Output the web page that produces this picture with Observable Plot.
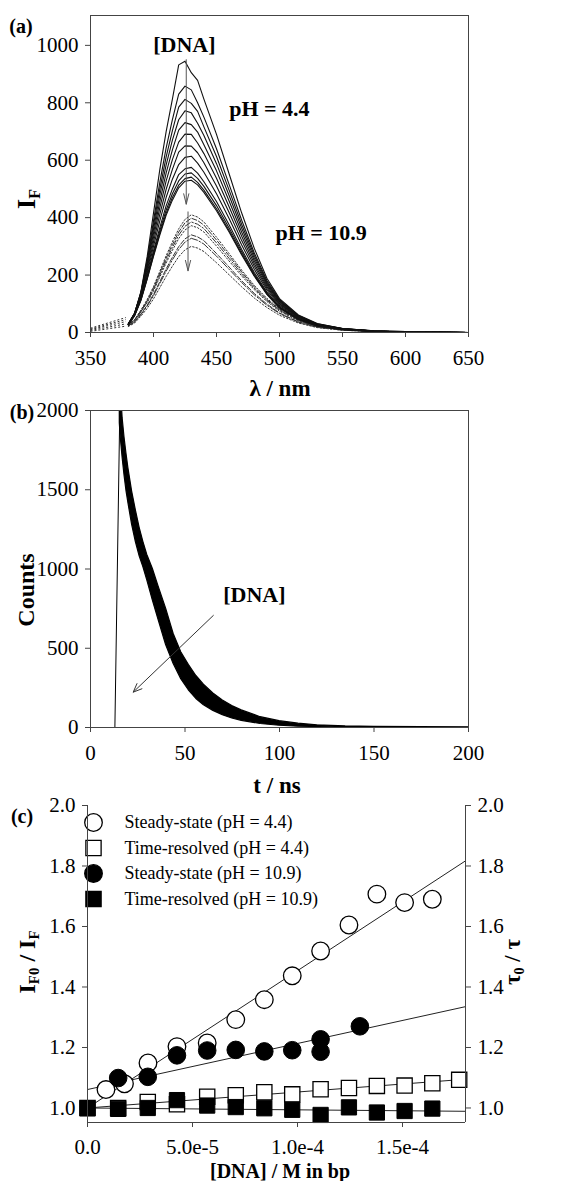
<!DOCTYPE html>
<html><head><meta charset="utf-8">
<script src="https://cdn.jsdelivr.net/npm/d3@7"></script>
<script src="https://cdn.jsdelivr.net/npm/@observablehq/plot@0.6"></script>
<style>
body{margin:0;background:#fff;}
#wrap{position:relative;width:582px;height:1181px;overflow:hidden;background:#fff;font-family:"Liberation Serif","Times New Roman",serif;color:#000;}
.panel{position:absolute;left:0;}
.lbl{position:absolute;white-space:nowrap;line-height:1;font-weight:bold;}
.lbl sub{font-size:0.62em;vertical-align:baseline;position:relative;top:0.28em;}
</style></head><body><div id="wrap"></div>
<script>
// ---------- Panel (a): emission spectra ----------
const lam = [380,385,390,395,400,405,410,415,420,425,430,435,440,450,460,470,480,490,500,515,530,550,575,600,650];
const spectraPH44 = [
 [28,66,142,265,416,567,699,813,932,945,905,878,813,690,553,416,293,189,118,61,31,14,6,3,0],
 [29,67,140,253,389,523,642,741,830,858,845,800,750,640,516,391,277,181,114,59,30,14,6,3,0],
 [30,67,138,246,374,499,611,703,785,812,798,770,716,613,496,376,268,176,111,58,29,14,5,2,0],
 [30,67,135,239,360,478,583,670,741,772,765,729,686,588,477,363,259,171,108,57,29,13,5,2,0],
 [29,66,133,232,346,456,555,636,705,731,724,698,654,563,458,349,250,166,105,55,28,13,5,2,0],
 [29,65,129,224,331,434,527,602,663,691,690,660,623,537,438,335,240,160,101,54,27,13,5,2,0],
 [29,64,126,215,316,411,498,568,628,650,649,626,591,510,418,320,231,154,98,52,26,12,5,2,0],
 [28,63,122,207,300,389,470,534,585,610,614,590,558,483,397,305,220,148,94,50,25,12,5,2,0],
 [27,61,117,197,284,365,441,500,550,570,575,555,525,456,375,289,209,141,90,48,24,11,5,2,0],
 [27,60,115,192,276,354,426,483,528,552,556,537,509,442,364,281,203,137,88,47,24,11,4,2,0],
 [27,59,113,188,269,345,415,470,513,536,541,523,496,431,355,274,199,134,86,46,23,11,4,2,0],
 [27,58,111,186,265,339,408,461,504,527,530,514,488,424,350,270,196,133,85,45,23,11,4,2,0]
];
const spectraPH109 = [
 [29,45,78,115,160,213,267,316,361,394,410,402,385,332,275,217,164,119,82,45,23,10,4,2,0],
 [28,44,76,111,155,207,259,306,350,382,398,390,374,322,267,211,159,115,80,44,22,10,4,2,0],
 [27,42,73,108,150,200,250,296,339,370,385,377,362,312,258,204,154,112,77,42,21,10,4,2,0],
 [26,41,71,104,145,193,242,286,327,357,372,365,350,301,249,197,149,108,74,41,20,9,4,1,0],
 [24,37,65,95,133,177,221,262,299,326,340,333,320,275,228,180,136,99,68,37,19,9,3,1,0],
 [23,36,62,92,128,171,213,253,289,315,328,321,308,266,220,174,131,95,66,36,18,8,3,1,0],
 [21,33,57,84,117,156,195,231,264,288,300,294,282,243,201,159,120,87,60,33,17,8,3,1,0]
];
const preLam = [350, 378];
const preStart = [4, 7, 10, 12, 15];
const preEnd = [22, 30, 38, 45, 52];
const xTicksA = [350,400,450,500,550,600,650];
const yTicksA = [0,200,400,600,800,1000];
const arrowsA = [{x1:426,y1:950,x2:426,y2:447},{x1:427.4,y1:420,x2:427.4,y2:215}];
const notesA = [{x:424.5,y:1000,t:"[DNA]"},{x:492,y:780,t:"pH = 4.4"},{x:533,y:345,t:"pH = 10.9"}];

// ---------- Panel (b): decay ----------
const riseT = [0, 12.9, 15.7];
const riseC = [0, 0, 2150];
const bandT  = [15.5,16,17,18,19,20,22,24,26,28,30,33,36,40,44,48,52,56,60,65,70,75,80,90,100,110,120,135,150,175,200];
const bandHi = [2150,2150,1950,1830,1730,1640,1490,1370,1260,1170,1090,1000,890,750,590,475,395,325,270,215,170,135,108,65,40,24,14,7,4,2,1];
const bandLo = [1920,1830,1700,1590,1495,1420,1280,1170,1080,1010,930,800,680,520,400,305,235,180,140,105,78,57,42,22,11,5,3,1,0,0,0];
const xTicksB = [0,50,100,150,200];
const yTicksB = [0,500,1000,1500,2000];
const arrowB = [{x1:65,y1:707,x2:22.6,y2:223}];
const noteB = [{x:86.7,y:839,t:"[DNA]"}];

// ---------- Panel (c): Stern-Volmer ----------
const ssX44 = [0.88e-5,1.76e-5,2.88e-5,4.26e-5,5.7e-5,7.06e-5,8.42e-5,9.75e-5,1.11e-4,1.245e-4,1.378e-4,1.51e-4,1.642e-4];
const ssY44 = [1.061,1.080,1.149,1.203,1.215,1.292,1.358,1.437,1.519,1.605,1.707,1.679,1.690];
const ssX109 = [1.46e-5,2.87e-5,4.26e-5,5.7e-5,7.06e-5,8.42e-5,9.75e-5,1.11e-4,1.11e-4,1.297e-4];
const ssY109 = [1.099,1.103,1.174,1.190,1.192,1.187,1.191,1.227,1.186,1.270];
const trX = [0,1.46e-5,2.87e-5,4.26e-5,5.7e-5,7.06e-5,8.42e-5,9.75e-5,1.11e-4,1.245e-4,1.378e-4,1.51e-4,1.642e-4,1.77e-4];
const trY44 = [1.0,1.0,1.02,1.012,1.037,1.042,1.052,1.045,1.062,1.066,1.073,1.074,1.082,1.093];
const trY109 = [0.999,0.997,1.0,1.026,1.008,1.003,0.999,0.994,0.977,1.002,0.985,0.99,0.998];
const fitX = [0, 1.8e-4];
const fitSS44 = [1.0, 1.817];
const fitTR44 = [1.0, 1.095];
const fitSS109 = [1.061, 1.335];
const fitTR109 = [1.0, 0.989];
const legendLabels = ["Steady-state (pH = 4.4)","Time-resolved (pH = 4.4)","Steady-state (pH = 10.9)","Time-resolved (pH = 10.9)"];
const xTicksC = [0,5e-5,1e-4,1.5e-4];
const xTickLabelsC = ["0.0","5.0e-5","1.0e-4","1.5e-4"];
const yTicksC = [1.0,1.2,1.4,1.6,1.8,2.0];
const yTickLabelsC = ["1.0","1.2","1.4","1.6","1.8","2.0"];

// ---------- build ----------
const FONT = '"Liberation Serif","Times New Roman",serif';
const AX = "#444";
const baseStyle = {fontFamily: FONT, fontSize: "21px", color: "#000", background: "white", overflow: "visible"};
const wrap = document.getElementById("wrap");
function place(svg, top){ const d=document.createElement("div"); d.className="panel"; d.style.top=top+"px"; d.appendChild(svg); wrap.appendChild(d); }
function label(html, cx, cy, size, rot){
  const d=document.createElement("div"); d.className="lbl"; d.innerHTML=html;
  d.style.fontSize=size+"px"; d.style.left=cx+"px"; d.style.top=cy+"px";
  d.style.transform="translate(-50%,-50%)"+(rot?` rotate(${rot}deg)`:"");
  wrap.appendChild(d);
}

const rows44 = spectraPH44.flatMap((arr,k)=>arr.map((v,i)=>({l:lam[i], v, k})));
const preRows = preStart.map((s,i)=>({x1:preLam[0], y1:s, x2:preLam[1], y2:preEnd[i]}));
const dashes = ["1.5,2","5,2","6,2,1.5,2","1.5,2","5,2","8,2,1.5,2","1.5,2"];
const lines109 = spectraPH109.map((arr,k)=>Plot.line(arr.map((v,i)=>({l:lam[i], v})), {x:"l", y:"v", stroke:"#333", strokeWidth:1, strokeDasharray:dashes[k]}));

const plotA = Plot.plot({
  width:582, height:395, marginTop:15, marginLeft:90, marginRight:114, marginBottom:63,
  x:{domain:[350,650]}, y:{domain:[0,1104]}, style: baseStyle,
  marks:[
    Plot.axisX({ticks:xTicksA, tickFormat:d=>String(d), tickSize:5, tickPadding:13, label:null, stroke:AX}),
    Plot.axisY({ticks:yTicksA, tickFormat:d=>String(d), tickSize:5, tickPadding:7, label:null, stroke:AX}),
    Plot.link(preRows, {x1:"x1", y1:"y1", x2:"x2", y2:"y2", stroke:"#333", strokeWidth:1, strokeDasharray:"2,2"}),
    ...lines109,
    Plot.line(rows44, {x:"l", y:"v", z:"k", stroke:"#111", strokeWidth:1.1}),
    Plot.arrow(arrowsA, {x1:"x1", y1:"y1", x2:"x2", y2:"y2", stroke:"#555", strokeWidth:1, headLength:16, headAngle:28}),
    Plot.text(notesA, {x:"x", y:"y", text:"t", fontWeight:"bold", fontSize:22, fontFamily:FONT, fill:"#000"}),
    Plot.frame({stroke:AX})
  ]
});
place(plotA, 0);

const riseRows = riseT.map((t,i)=>({t, c:riseC[i]}));
const bandRows = bandT.map((t,i)=>({t, lo:bandLo[i], hi:bandHi[i]}));
const plotB = Plot.plot({
  width:582, height:395, marginTop:15, marginLeft:90, marginRight:114, marginBottom:63,
  x:{domain:[0,200]}, y:{domain:[0,2000]}, style: baseStyle,
  marks:[
    Plot.axisX({ticks:xTicksB, tickFormat:d=>String(d), tickSize:5, tickPadding:13, label:null, stroke:AX}),
    Plot.axisY({ticks:yTicksB, tickFormat:d=>String(d), tickSize:5, tickPadding:7, label:null, stroke:AX}),
    Plot.areaY(bandRows, {x:"t", y1:"lo", y2:"hi", fill:"#000", stroke:"#000", strokeWidth:1.2, clip:true}),
    Plot.line(riseRows, {x:"t", y:"c", stroke:"#000", strokeWidth:1, clip:true}),
    Plot.arrow(arrowB, {x1:"x1", y1:"y1", x2:"x2", y2:"y2", stroke:"#333", strokeWidth:1, headLength:14, headAngle:45}),
    Plot.text(noteB, {x:"x", y:"y", text:"t", fontWeight:"bold", fontSize:22, fontFamily:FONT, fill:"#000"}),
    Plot.frame({stroke:AX})
  ]
});
place(plotB, 395);

const pts = (xs, ys) => xs.map((x,i)=>({x, y:ys[i]}));
const fitRows = ys => fitX.map((x,i)=>({x, y:ys[i]}));
const legendMarks = legendLabels.flatMap((lab,i)=>{
  const sym = (i%2===0) ? "circle" : "square";
  const filled = i>=2;
  return [
    Plot.dot([lab], {frameAnchor:"top-left", dx:6, dy:17+25.5*i, r: sym==="circle"?8.8:8.6, symbol:sym, fill: filled?"#000":"#fff", stroke:"#000", strokeWidth:1.3}),
    Plot.text([lab], {frameAnchor:"top-left", dx:37, dy:17+25.5*i, text:d=>d, textAnchor:"start", lineAnchor:"middle", fontSize:18, fontFamily:FONT, fill:"#000"})
  ];
});
const plotC = Plot.plot({
  width:582, height:391, marginTop:15, marginLeft:87, marginRight:117, marginBottom:59,
  x:{domain:[0,1.8e-4]}, y:{domain:[0.952,2.0]}, style: baseStyle,
  marks:[
    Plot.axisX({ticks:xTicksC, tickFormat:d=>xTickLabelsC[xTicksC.indexOf(d)], tickSize:5, tickPadding:12, label:null, stroke:AX}),
    Plot.axisY({ticks:yTicksC, tickFormat:d=>yTickLabelsC[yTicksC.indexOf(d)], tickSize:5, tickPadding:7, label:null, stroke:AX}),
    Plot.axisY({anchor:"right", ticks:yTicksC, tickFormat:d=>yTickLabelsC[yTicksC.indexOf(d)], tickSize:5, tickPadding:7, label:null, stroke:AX}),
    Plot.line(fitRows(fitSS44), {x:"x", y:"y", stroke:"#222", strokeWidth:1}),
    Plot.line(fitRows(fitSS109), {x:"x", y:"y", stroke:"#222", strokeWidth:1}),
    Plot.line(fitRows(fitTR44), {x:"x", y:"y", stroke:"#222", strokeWidth:1}),
    Plot.line(fitRows(fitTR109), {x:"x", y:"y", stroke:"#222", strokeWidth:1}),
    Plot.dot(pts(ssX44, ssY44), {x:"x", y:"y", r:8.8, fill:"#fff", stroke:"#000", strokeWidth:1.3}),
    Plot.dot(pts(trX, trY44), {x:"x", y:"y", r:8.6, symbol:"square", fill:"#fff", stroke:"#000", strokeWidth:1.3}),
    Plot.dot(pts(ssX109, ssY109), {x:"x", y:"y", r:8.8, fill:"#000", stroke:"#000", strokeWidth:1}),
    Plot.dot(pts(trX.slice(0, trY109.length), trY109), {x:"x", y:"y", r:8.6, symbol:"square", fill:"#000", stroke:"#000", strokeWidth:1}),
    ...legendMarks,
    Plot.ruleX([0, 1.8e-4], {stroke:AX}),
    Plot.ruleY([0.952], {stroke:AX})
  ]
});
place(plotC, 790);

// panel letters and axis titles
label("(a)", 21, 26, 20);
label("(b)", 22, 412, 20);
label("(c)", 22, 816, 20);
label("λ / nm", 280, 388, 23);
label("t / ns", 277, 785, 23);
label("[DNA] / M in bp", 280, 1171, 20);
label("I<sub>F</sub>", 27, 199, 26, -90);
label("Counts", 26, 590, 24, -90);
label("I<sub>F0</sub> / I<sub>F</sub>", 27, 962, 24, -90);
label("τ<sub>0</sub> / τ", 512, 962, 23, -90);
</script></body></html>
